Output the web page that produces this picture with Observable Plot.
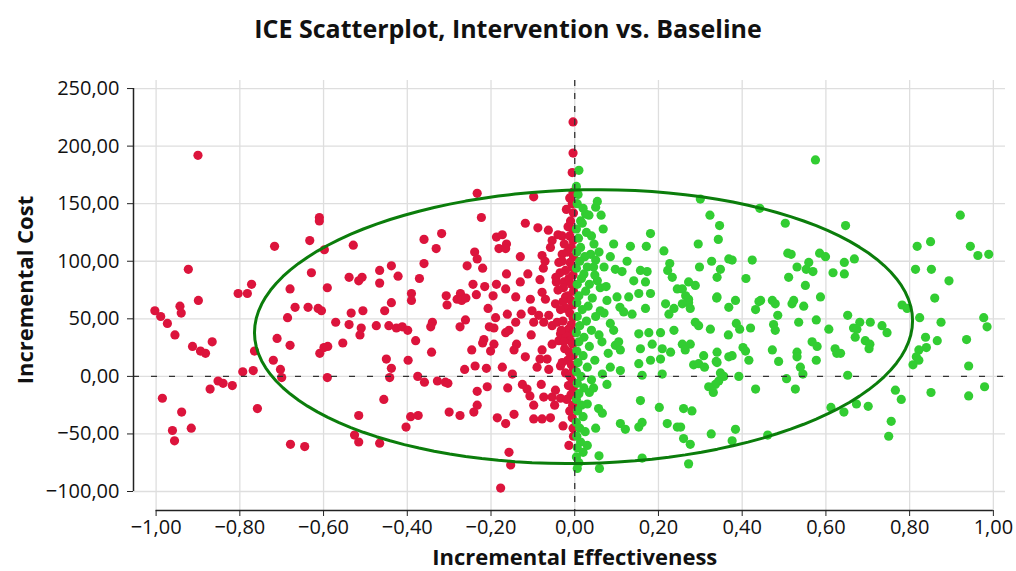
<!DOCTYPE html>
<html><head><meta charset="utf-8">
<script src="https://cdn.jsdelivr.net/npm/d3@7"></script>
<script src="https://cdn.jsdelivr.net/npm/@observablehq/plot@0.6"></script>
<style>
body{margin:0;background:#fff;font-family:"Open Sans",sans-serif;}
#title{height:56px;line-height:56px;text-align:center;font-weight:700;font-size:25px;color:#111;}
#chart svg{display:block;}
</style></head><body>
<div id="title">ICE Scatterplot, Intervention vs. Baseline</div>
<div id="chart"></div>
<script>
// Red: intervention less effective (x < 0)
const redPoints = [
[-0.90,192],[-0.61,138],[-0.61,135],[-0.717,113],[-0.633,118],[-0.598,110],[-0.923,93],[-0.629,90],[-0.772,80],[-0.804,72],[-0.782,72],[-0.68,76],[-0.591,77],[-0.899,66],
[-1.003,57],[-0.989,52],[-0.973,46],[-0.943,61],[-0.94,55],[-0.955,36],[-0.913,26],[-0.894,22],[-0.882,20],[-0.866,30],[-0.852,-4],[-0.84,-6],[-0.871,-11],[-0.818,-8],[-0.793,4],[-0.768,5],[-0.765,22],[-0.985,-19],[-0.939,-31],[-0.961,-47],[-0.956,-56],[-0.916,-45],[-0.758,-28],[-0.679,-59],[-0.645,-61],[-0.711,33],[-0.68,27],[-0.72,14],[-0.703,6],[-0.70,-1],[-0.686,51],[-0.668,60],[-0.637,60],[-0.613,59],[-0.605,57],[-0.609,20],[-0.599,25],[-0.59,26],[-0.591,-1],
[-0.233,159],[-0.223,138],[-0.529,114],[-0.36,119],[-0.318,124],[-0.331,111],[-0.36,98],[-0.371,85],[-0.187,121],[-0.181,111],[-0.239,108],[-0.233,102],[-0.257,96],[-0.22,94],[-0.243,80],[-0.215,78],[-0.187,80],[-0.466,92],[-0.438,96],[-0.422,87],[-0.466,81],[-0.539,86],[-0.516,83],[-0.508,86],[-0.39,72],[-0.307,70],[-0.273,72],[-0.281,67],[-0.235,71],[-0.195,70],
[-0.39,66],[-0.305,62],[-0.27,66],[-0.26,68],[-0.438,64],[-0.454,57],[-0.506,57],[-0.534,55],[-0.571,47],[-0.539,45],[-0.51,42],[-0.513,36],[-0.474,44],[-0.444,44],[-0.426,42],[-0.412,43],[-0.399,40],[-0.554,29],[-0.38,31],[-0.34,47],[-0.344,43],[-0.342,21],[-0.274,43],[-0.261,49],[-0.207,59],[-0.189,51],[-0.204,43],[-0.193,42],[-0.217,32],[-0.22,29],[-0.193,28],[-0.201,22],[-0.246,23],[-0.45,15],[-0.438,7],[-0.442,-1],[-0.398,14],[-0.375,0],[-0.359,-5],[-0.328,-4],[-0.309,-5],[-0.303,-6],[-0.263,6],[-0.238,9],[-0.211,7],[-0.233,-13],[-0.209,-9],[-0.456,-20],[-0.516,-34],[-0.526,-51],[-0.516,-57],[-0.466,-58],[-0.392,-35],[-0.374,-34],[-0.403,-44],[-0.30,-31],[-0.274,-34],[-0.241,-31],[-0.233,-25],[-0.185,-36],[-0.177,-97],
[-0.004,221],[-0.004,194],[-0.006,177],[-0.098,156],[-0.118,133],[-0.088,129],[-0.063,127],[-0.173,123],[-0.163,115],[-0.165,111],[-0.054,118],[-0.04,123],[-0.03,122],[-0.058,112],[-0.13,104],[-0.078,105],[-0.071,100],[-0.163,89],[-0.13,82],[-0.112,89],[-0.083,84],[-0.075,94],[-0.038,99],[-0.03,106],[-0.044,82],[-0.026,82],[-0.165,76],[-0.141,69],[-0.106,67],[-0.078,73],[-0.07,67],
[-0.046,63],[-0.022,69],[-0.161,54],[-0.141,47],[-0.128,54],[-0.102,57],[-0.098,47],[-0.086,53],[-0.074,47],[-0.062,53],[-0.054,44],[-0.042,47],
[-0.165,38],[-0.157,40],[-0.139,28],[-0.145,23],[-0.104,36],[-0.078,23],[-0.083,15],[-0.066,15],[-0.054,28],[-0.038,31],[-0.034,37],
[-0.118,17],[-0.09,8],[-0.062,6],[-0.034,9],[-0.173,8],[-0.149,2],
[-0.16,-10],[-0.125,-7],[-0.114,-11],[-0.107,-17],[-0.08,-7],[-0.074,-18],[-0.054,-18],[-0.046,-12],[-0.034,-19],[-0.048,-25],[-0.098,-25],
[-0.145,-33],[-0.165,-41],[-0.098,-37],[-0.078,-37],[-0.058,-36],[-0.028,-43],[-0.006,-36],[-0.014,-60],[-0.157,-66],[-0.153,-77],
[-0.004,160],[-0.006,150],[-0.003,142],[-0.01,135],[-0.005,128],[-0.012,122],[-0.004,118],[-0.008,112],[-0.018,108],[-0.003,104],[-0.011,99],[-0.006,95],[-0.022,92],[-0.004,88],[-0.014,85],[-0.008,80],[-0.027,77],[-0.003,74],[-0.016,70],[-0.009,66],[-0.005,62],[-0.021,59],[-0.012,55],[-0.004,51],[-0.028,48],[-0.008,45],[-0.015,41],[-0.003,38],[-0.02,35],[-0.01,31],[-0.005,28],[-0.024,24],[-0.013,21],[-0.004,18],[-0.017,14],[-0.008,10],[-0.003,6],[-0.022,3],[-0.011,0],[-0.006,-4],[-0.015,-8],[-0.003,-12],[-0.009,-16],[-0.019,-20],[-0.005,-25],[-0.012,-30],[-0.004,-45],[-0.003,-52],[-0.025,115],[-0.03,100],[-0.035,90],[-0.028,65],[-0.032,40],[-0.026,30],[-0.03,12],[-0.034,58],[-0.04,75],[-0.045,86],[-0.016,130],[-0.02,145],[-0.012,155]
];
// Green: intervention more effective (x > 0)
const greenPoints = [
[0.01,179],[0.054,152],[0.05,147],[0.063,140],[0.026,141],[0.034,140],[0.014,135],[0.018,133],[0.068,128],[0.181,124],[0.093,115],[0.133,113],[0.171,113],[0.213,109],[0.085,104],[0.125,100],[0.097,93],[0.113,91],[0.141,83],[0.157,92],[0.173,91],[0.169,82],[0.227,98],[0.222,92],[0.233,86],[0.245,76],[0.046,115],[0.038,106],[0.05,101],[0.03,95],[0.014,112],[0.022,89],[0.054,83],[0.061,77],[0.101,69],[0.129,69],[0.153,72],[0.181,72],
[0.169,59],[0.137,54],[0.117,56],[0.108,60],[0.217,63],[0.237,59],[0.225,54],[0.077,66],[0.061,57],[0.085,46],[0.093,40],[0.097,27],[0.105,30],[0.109,23],[0.153,37],[0.177,38],[0.205,38],[0.157,24],[0.185,28],[0.209,24],[0.181,14],[0.205,15],[0.229,21],[0.237,40],[0.153,11],[0.161,1],[0.209,2],[0.109,5],[0.085,8],[0.066,2],[0.077,-7],[0.157,-21],[0.202,-27],[0.221,-41],[0.245,-44],[0.109,-41],[0.121,-46],[0.153,-44],[0.161,-40],[0.057,-28],[0.066,-32],[0.030,-24],[0.058,-69],[0.059,-80],[0.161,-71],
[0.575,188],[0.30,154],[0.442,146],[0.323,140],[0.346,131],[0.503,133],[0.295,115],[0.343,119],[0.509,107],[0.517,106],[0.585,107],[0.599,104],[0.327,100],[0.368,102],[0.376,101],[0.424,101],[0.298,95],[0.348,93],[0.34,86],[0.272,82],[0.288,79],[0.257,76],[0.265,70],[0.272,67],[0.409,85],[0.531,95],[0.559,99],[0.553,93],[0.569,91],[0.617,90],[0.511,86],[0.551,79],[0.587,69],[0.34,69],[0.384,66],[0.444,66],[0.472,66],[0.523,66],
[0.272,64],[0.276,59],[0.257,63],[0.339,68],[0.368,60],[0.440,65],[0.432,58],[0.479,63],[0.485,53],[0.519,63],[0.547,61],
[0.288,47],[0.296,44],[0.324,41],[0.367,36],[0.386,46],[0.394,41],[0.420,42],[0.475,45],[0.479,40],[0.535,47],[0.577,49],[0.607,41],
[0.257,28],[0.276,28],[0.264,23],[0.308,18],[0.340,21],[0.338,13],[0.368,17],[0.376,18],[0.402,25],[0.408,22],[0.416,14],[0.472,23],[0.487,13],[0.531,21],[0.531,17],[0.539,8],[0.545,2],[0.567,30],[0.579,26],[0.577,14],[0.622,24],[0.626,20],
[0.284,10],[0.296,11],[0.31,8],[0.340,12],[0.348,3],[0.356,0],[0.344,-4],[0.336,-7],[0.320,-9],[0.331,-14],[0.392,0],[0.432,-11],[0.506,-2],[0.527,-11],
[0.260,-28],[0.280,-30],[0.253,-44],[0.260,-54],[0.276,-59],[0.272,-76],[0.326,-50],[0.384,-46],[0.376,-56],[0.461,-51],[0.612,-27],
[0.921,140],[0.647,131],[0.818,113],[0.850,117],[0.945,113],[0.963,105],[0.989,106],[0.644,99],[0.668,102],[0.644,89],[0.814,93],[0.852,93],[0.894,83],[0.86,68],
[0.782,62],[0.794,59],[0.652,53],[0.681,47],[0.706,47],[0.666,42],[0.674,41],[0.734,44],[0.746,38],[0.670,34],[0.694,31],[0.705,28],[0.703,24],[0.635,20],[0.824,51],[0.875,47],[0.838,34],[0.866,31],[0.840,25],[0.822,23],[0.816,17],[0.822,14],[0.808,10],[0.977,51],[0.985,43],[0.936,32],[0.941,9],[0.652,1],[0.766,-12],[0.780,-20],[0.851,-14],[0.941,-17],[0.979,-9],[0.643,-31],[0.673,-24],[0.701,-26],[0.756,-39],[0.750,-52],
[0.004,165],[0.008,158],[0.006,150],[0.02,146],[0.004,128],[0.028,125],[0.009,120],[0.04,122],[0.005,108],[0.024,104],[0.012,100],[0.058,108],[0.045,95],[0.004,94],[0.016,85],[0.035,80],[0.006,80],[0.048,88],[0.07,95],[0.026,74],[0.01,70],[0.042,68],[0.005,64],[0.032,61],[0.018,58],[0.05,52],[0.006,52],[0.028,48],[0.012,44],[0.04,40],[0.004,38],[0.022,34],[0.058,36],[0.01,30],[0.035,26],[0.005,22],[0.02,18],[0.048,14],[0.008,12],[0.03,8],[0.004,4],[0.015,0],[0.04,-3],[0.006,-6],[0.022,-10],[0.01,-15],[0.035,-14],[0.004,-20],[0.016,-25],[0.007,-30],[0.02,-35],[0.004,-40],[0.012,-45],[0.025,-48],[0.005,-52],[0.014,-57],[0.006,-62],[0.02,-66],[0.004,-70],[0.01,-75],[0.006,-80],[0.075,78],[0.07,55],[0.065,30],[0.08,20],[0.045,-10],[0.05,-45],[0.03,-60]
];
const xTicks = [-1, -0.8, -0.6, -0.4, -0.2, 0, 0.2, 0.4, 0.6, 0.8, 1];
const yTicks = [-100, -50, 0, 50, 100, 150, 200, 250];
const xDomain = [-1.054, 1.029];
const yDomain = [-116.5, 257];
// confidence ellipse: centre, semi-axes, slight tilt (cost units)
const ellipseCenter = [0.021, 43.2];
const ellipseRadii = [0.786, 118.8];
const ellipseTilt = 5.2;

const colors = {red: "#dc143c", green: "#32cd32", ellipse: "#0b7d0b", grid: "#dedede", axis: "#222"};
const locale = d3.formatLocale({decimal: ",", thousands: ".", grouping: [3], currency: ["", ""], minus: "\u2212"});
const fmt = locale.format(".2f");

const toObj = ([x, y]) => ({x, y});
const red = redPoints.map(toObj);
const green = greenPoints.map(toObj);
const ellipse = d3.range(0, 121).map(i => {
  const t = (i / 120) * 2 * Math.PI;
  return {
    x: ellipseCenter[0] + ellipseRadii[0] * Math.cos(t),
    y: ellipseCenter[1] + ellipseRadii[1] * Math.sin(t) + ellipseTilt * Math.cos(t)
  };
});

const chart = Plot.plot({
  width: 1016,
  height: 515,
  marginLeft: 133,
  marginRight: 11,
  marginTop: 24,
  marginBottom: 61,
  style: {fontFamily: "'Open Sans', sans-serif", fontSize: "20px", color: "#111", background: "#fff"},
  x: {domain: xDomain},
  y: {domain: yDomain},
  marks: [
    Plot.gridX(xTicks, {stroke: colors.grid, strokeOpacity: 1, strokeWidth: 1.3}),
    Plot.gridY(yTicks, {stroke: colors.grid, strokeOpacity: 1, strokeWidth: 1.3}),
    Plot.dot(red, {x: "x", y: "y", r: 4.6, fill: colors.red}),
    Plot.dot(green, {x: "x", y: "y", r: 4.6, fill: colors.green}),
    Plot.ruleY([0], {stroke: "#333", strokeWidth: 1.3, strokeDasharray: "6,12"}),
    Plot.ruleX([0], {stroke: "#333", strokeWidth: 1.3, strokeDasharray: "6,7"}),
    Plot.line(ellipse, {x: "x", y: "y", stroke: colors.ellipse, strokeWidth: 3}),
    Plot.ruleX([xDomain[0]], {y1: yTicks[0], y2: yTicks[yTicks.length - 1], stroke: colors.axis, strokeWidth: 1.5}),
    Plot.ruleY([yDomain[0]], {x1: xTicks[0], x2: xTicks[xTicks.length - 1], stroke: colors.axis, strokeWidth: 1.5}),
    Plot.axisX(xTicks, {anchor: "bottom", tickSize: 6, tickPadding: 3, tickFormat: fmt, label: null, fontSize: 20, stroke: colors.axis}),
    Plot.axisY(yTicks, {anchor: "left", tickSize: 6, tickPadding: 8, tickFormat: fmt, label: null, fontSize: 20, stroke: colors.axis}),
    Plot.text(["Incremental Effectiveness"], {x: (xTicks[0] + xTicks[xTicks.length - 1]) / 2, frameAnchor: "bottom", dy: 54, fontSize: 22, fontWeight: "bold", fill: "#111"}),
    Plot.text(["Incremental Cost"], {y: (yTicks[0] + yTicks[yTicks.length - 1]) / 2, frameAnchor: "left", textAnchor: "middle", dx: -108, rotate: -90, fontSize: 22, fontWeight: "bold", fill: "#111"})
  ]
});
document.getElementById("chart").appendChild(chart);
</script>
</body></html>
